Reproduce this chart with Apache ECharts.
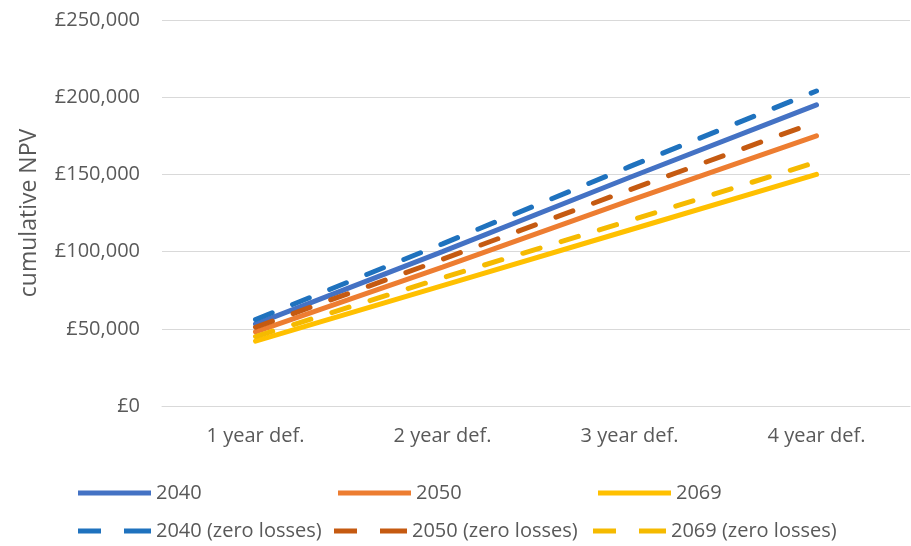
<!DOCTYPE html>
<html><head><meta charset="utf-8">
<script src="https://cdn.jsdelivr.net/npm/echarts@6/dist/echarts.min.js"></script>
<style>html,body{margin:0;padding:0;background:#fff}#c{width:911px;height:546px}</style>
</head><body><div id="c"></div>
<script>
const categories = ['1 year def.', '2 year def.', '3 year def.', '4 year def.'];
const s2040 = [53000, 100000, 148000, 195000];
const s2050 = [48000, 90000, 133000, 175000];
const s2069 = [42000, 78000, 114000, 150000];
const s2040z = [56000, 105000, 155000, 204000];
const s2050z = [51000, 95000, 140000, 184000];
const s2069z = [45000, 83000, 120000, 158000];
const yTicks = [0, 50000, 100000, 150000, 200000, 250000];

const FONT = 'Open Sans';
const TXT = '#595959';
const seriesDefs = [
  {name: '2040', data: s2040, color: '#4472C4', dash: 'solid'},
  {name: '2050', data: s2050, color: '#ED7D31', dash: 'solid'},
  {name: '2069', data: s2069, color: '#FFC000', dash: 'solid'},
  {name: '2040 (zero losses)', data: s2040z, color: '#1F72BE', dash: [18, 22]},
  {name: '2050 (zero losses)', data: s2050z, color: '#C55A11', dash: [18, 22]},
  {name: '2069 (zero losses)', data: s2069z, color: '#F5BA00', dash: [18, 22]}
];
const legendPos = [
  {left: 73, top: 478}, {left: 333, top: 478}, {left: 593, top: 478},
  {left: 73, top: 516}, {left: 329, top: 516}, {left: 588, top: 516}
];
const SOLID_ICON = 'path://M0,0H73V5H0Z';
const DASH_ICON = 'path://M0,0H23V5H0Z M46,0H73V5H46Z';
const chart = echarts.init(document.getElementById('c'));
chart.setOption({
  animation: false,
  grid: {left: 162, right: 1, top: 20, bottom: 140},
  xAxis: {
    type: 'category', data: categories, boundaryGap: true,
    axisLine: {lineStyle: {color: '#d9d9d9'}},
    axisTick: {show: false},
    axisLabel: {color: TXT, fontFamily: FONT, fontSize: 20, margin: 20}
  },
  yAxis: {
    type: 'value', min: yTicks[0], max: yTicks[yTicks.length - 1], interval: 50000,
    name: 'cumulative NPV', nameLocation: 'middle', nameGap: 121, nameRotate: 90,
    nameTextStyle: {color: TXT, fontFamily: FONT, fontSize: 23},
    axisLine: {show: false}, axisTick: {show: false},
    splitLine: {lineStyle: {color: '#d9d9d9'}},
    axisLabel: {color: TXT, fontFamily: FONT, fontSize: 20, margin: 22,
      formatter: v => '£' + v.toLocaleString('en-GB')}
  },
  legend: seriesDefs.map((s, i) => ({
    data: [s.name], left: legendPos[i].left, top: legendPos[i].top,
    itemWidth: 73, itemHeight: 5, itemGap: 0,
    icon: s.dash === 'solid' ? SOLID_ICON : DASH_ICON,
    textStyle: {color: TXT, fontFamily: FONT, fontSize: 20, padding: [0, 0, 0, 0]}
  })),
  series: seriesDefs.map(s => ({
    name: s.name, type: 'line', data: s.data, symbol: 'none', smooth: false,
    color: s.color,
    lineStyle: {color: s.color, width: 5, type: s.dash, cap: 'round'}
  }))
});
</script></body></html>
